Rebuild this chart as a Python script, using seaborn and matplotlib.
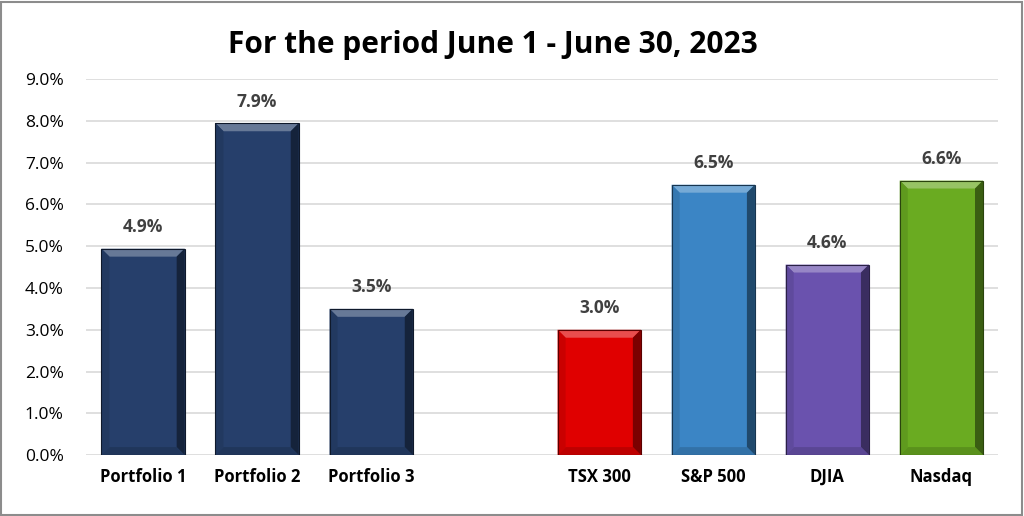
import matplotlib
matplotlib.use("Agg")
import matplotlib.pyplot as plt
import seaborn as sns
import pandas as pd
import numpy as np
from matplotlib.patches import Polygon, Rectangle
from matplotlib.ticker import FuncFormatter, MultipleLocator

categories = ["Portfolio 1", "Portfolio 2", "Portfolio 3", " ", "TSX 300", "S&P 500", "DJIA", "Nasdaq"]
values = [4.94, 7.94, 3.50, np.nan, 3.00, 6.47, 4.56, 6.57]
colors = ["#263F6B", "#263F6B", "#263F6B", "#FFFFFF", "#E00000", "#3B85C5", "#6A52AE", "#6AAB21"]
title = "For the period June 1 - June 30, 2023"

sns.set_theme(style="white")
plt.rcParams["font.family"] = ["Open Sans", "DejaVu Sans"]

df = pd.DataFrame({"cat": categories, "val": values})

fig = plt.figure(figsize=(10.24, 5.16), dpi=100)
ax = fig.add_axes([0.084, 0.118, 0.891, 0.729])
sns.barplot(data=df, x="cat", y="val", hue="cat", order=categories, hue_order=categories,
            palette=colors, saturation=1, legend=False, width=0.73, ax=ax, zorder=3,
            edgecolor="none", linewidth=0)

ax.set_ylim(0, 9)
ax.set_xlim(-0.5, 7.5)
ax.yaxis.set_major_locator(MultipleLocator(1))
ax.yaxis.set_major_formatter(FuncFormatter(lambda v, p: f"{v:.1f}%"))
ax.grid(axis="y", color="#D9D9D9", linewidth=1.2, zorder=0)
ax.set_axisbelow(True)
for s in ax.spines.values():
    s.set_visible(False)
ax.set_xlabel("")
ax.set_ylabel("")
ax.tick_params(axis="y", labelsize=12.5, colors="#000000", pad=16, length=0)
ax.tick_params(axis="x", labelsize=12, pad=9, length=0)
for t in ax.get_xticklabels():
    t.set_fontweight("bold")
    t.set_color("#000000")

# bevel effect derived from bar geometry
fig.canvas.draw()
inv = ax.transData.inverted()
def shade(c, f):
    rgb = np.array(matplotlib.colors.to_rgb(c))
    if f > 0:
        return tuple(rgb + (1 - rgb) * f)
    return tuple(rgb * (1 + f))

for patch in list(ax.patches):
    x0, y0 = patch.get_x(), patch.get_y()
    w, h = patch.get_width(), patch.get_height()
    if not np.isfinite(h) or h <= 0:
        continue
    idx = int(round(x0 + w / 2))
    val = values[idx]
    x1, y1 = x0 + w, y0 + h
    p0 = ax.transData.transform((x0, y0))
    p1 = ax.transData.transform((x1, y1))
    d = 8
    ix0, iy0 = inv.transform((p0[0] + d, p0[1] + d))
    ix1, iy1 = inv.transform((p1[0] - d, p1[1] - d))
    c = patch.get_facecolor()
    polys = [
        ([(x0, y1), (x1, y1), (ix1, iy1), (ix0, iy1)], shade(c, 0.3)),
        ([(x1, y1), (x1, y0), (ix1, iy0), (ix1, iy1)], shade(c, -0.45)),
        ([(x0, y0), (x1, y0), (ix1, iy0), (ix0, iy0)], shade(c, -0.15)),
        ([(x0, y0), (x0, y1), (ix0, iy1), (ix0, iy0)], shade(c, -0.1)),
    ]
    for pts, col in polys:
        ax.add_patch(Polygon(pts, closed=True, facecolor=col, edgecolor="none", zorder=4))
    ax.add_patch(Rectangle((x0, y0), w, h, fill=False, edgecolor=shade(c, -0.6), linewidth=0.8, zorder=5))
    ax.annotate(f"{val:.1f}%", (x0 + w / 2, y1), xytext=(0, 9), textcoords="offset points",
                ha="center", va="bottom", fontsize=12.5, fontweight="bold", color="#404040")

fig.text(0.481, 0.913, title, ha="center", va="center", fontsize=21.5, fontweight="bold", color="#000000")
fig.patches.append(Rectangle((0.001, 0.002), 0.997, 0.995, transform=fig.transFigure, fill=False,
                             edgecolor="#8C8C8C", linewidth=1.5))
fig.savefig("out.png", dpi=100)
